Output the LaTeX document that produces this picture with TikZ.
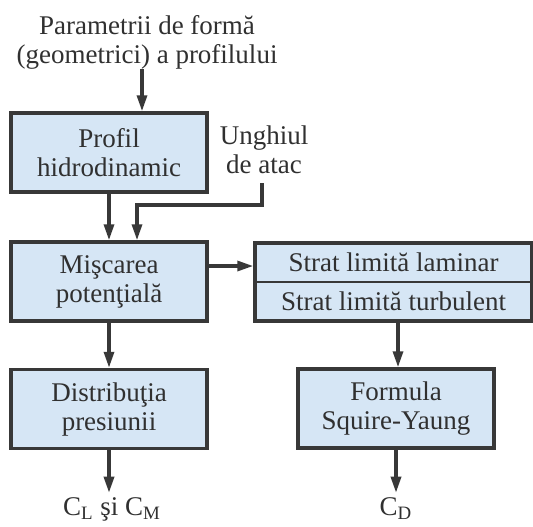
\documentclass[tikz,border=0pt]{standalone}
\usepackage{fontspec}
\setmainfont{Liberation Serif}
\usepackage{xcolor}
\usetikzlibrary{shapes,arrows.meta}
\definecolor{boxfill}{HTML}{D6E6F5}
\definecolor{linegray}{HTML}{383838}
\definecolor{textgray}{HTML}{303030}
\tikzset{
box1/.style={draw=linegray, line width=1.75pt, fill=boxfill, rectangle, minimum height=39.5pt, minimum width=98pt, align=center, text=textgray, inner sep=0pt},
box2/.style={draw=linegray, line width=1.75pt, fill=boxfill, rectangle, minimum height=39pt, minimum width=138.5pt},
txt/.style={align=center, text=textgray, inner sep=0pt},
arr/.style={draw=linegray, line width=1.6pt, -{Triangle[length=8pt,width=5pt]}},
}

\begin{document}
\begin{tikzpicture}[x=0.5pt,y=-0.5pt,font=\fontsize{13.5}{14.5}\selectfont]
\useasboundingbox (0,0) rectangle (533,526);

\node[txt] (param) at (147,42) {Parametrii de formă\\(geometrici) a profilului};
\node[txt] (unghi) at (264,150) {Unghiul\\de atac};

\node[box1] (profil) at (109,152.5) {Profil\\hidrodinamic};
\node[box1] (miscare) at (109,281.5) {Mişcarea\\potenţială};
\node[box1] (distrib) at (109,409) {Distribuţia\\presiunii};
\node[box1] (formula) at (396,408.5) {Formula\\Squire-Yaung};

\node[box2] (strat) at (393.5,282) {};
\draw[linegray, line width=1pt] (strat.west) -- (strat.east);
\node[txt] (laminar) at (393.5,262.5) {Strat limită laminar};
\node[txt] (turbulent) at (393.5,301.5) {Strat limită turbulent};

\node[txt, anchor=base, inner sep=2pt] (cl) at (112,515) {C\textsubscript{L} şi C\textsubscript{M}};
\node[txt, anchor=base, inner sep=2pt] (cd) at (396,515) {C\textsubscript{D}};

\coordinate (cot) at (137,205);

\draw[arr] ([xshift=-2.5pt]param.south) -- ([xshift=-2.5pt]param.south |- profil.north);
\draw[arr] (profil.south) -- (miscare.north);
\draw[arr, shorten <=4.5pt] ([xshift=-1pt]unghi.south) |- (cot) -- (cot |- miscare.north);
\draw[arr] ([yshift=7.75pt]miscare.east) -- ([yshift=7.75pt]miscare.east -| strat.west);
\draw[arr] (miscare.south) -- (miscare.south |- distrib.north);
\draw[arr] ([xshift=2.25pt]strat.south) -- ([xshift=2.25pt]strat.south |- formula.north);
\draw[arr] (distrib.south) -- (distrib.south |- cl.north);
\draw[arr] (formula.south) -- (formula.south |- cd.north);
\end{tikzpicture}
\end{document}
